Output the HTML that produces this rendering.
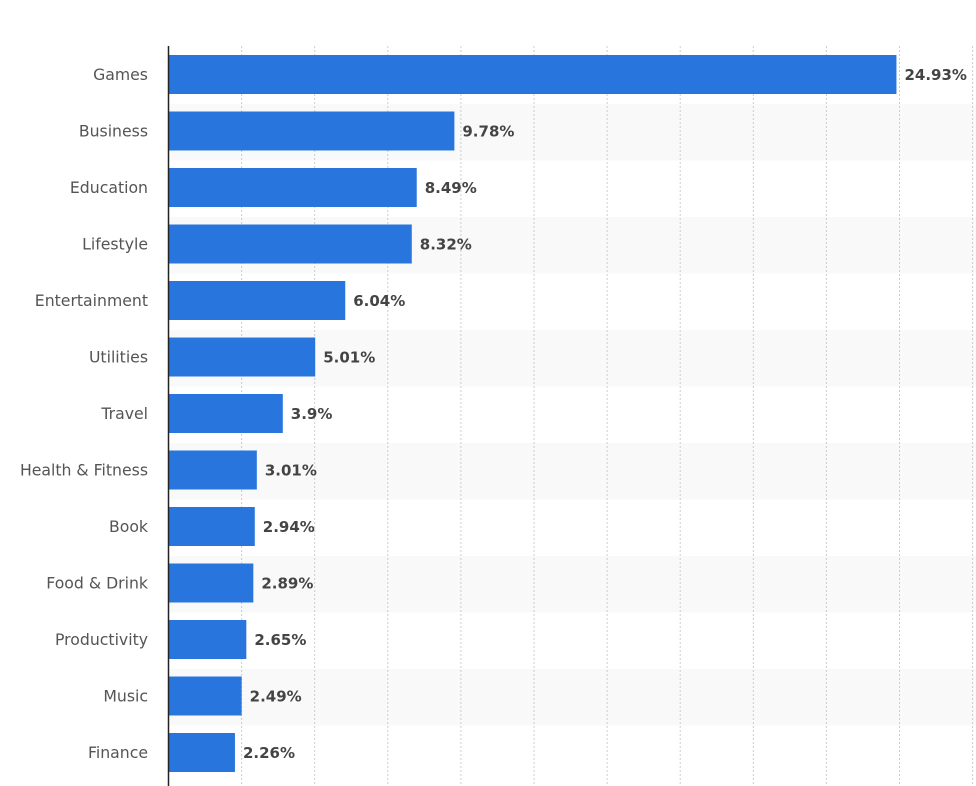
<!DOCTYPE html>
<html><head><meta charset="utf-8"><style>
html,body{margin:0;padding:0;background:#fff;}
svg{display:block;}
.l{font-family:"DejaVu Sans",sans-serif;font-size:15.7px;fill:#555;}
.v{font-family:"DejaVu Sans",sans-serif;font-size:15px;font-weight:bold;fill:#444;}
</style></head><body>
<svg width="976" height="786" xmlns="http://www.w3.org/2000/svg">
<g id="bands"></g>
<g id="grid"></g>
<g id="bars"></g>
<line x1="168.5" y1="46" x2="168.5" y2="786" stroke="#222" stroke-width="1.5"/>
</svg>
<script>
const d=[["Games",24.93],["Business",9.78],["Education",8.49],["Lifestyle",8.32],["Entertainment",6.04],["Utilities",5.01],["Travel",3.9],["Health & Fitness",3.01],["Book",2.94],["Food & Drink",2.89],["Productivity",2.65],["Music",2.49],["Finance",2.26]];
const ns="http://www.w3.org/2000/svg";
function el(p,t,a,txt){const e=document.createElementNS(ns,t);for(const k in a)e.setAttribute(k,a[k]);if(txt)e.textContent=txt;document.getElementById(p).appendChild(e);}
const P=56.5,S=29.18;
d.forEach((r,i)=>{
 if(i%2==1) el("bands","rect",{x:169,y:47.5+P*i,width:807,height:P,fill:"#f9f9f9"});
});
for(let k=1;k<=11;k++){const x=168.5+73.1*k;el("grid","line",{x1:x,y1:46,x2:x,y2:786,stroke:"#ccc","stroke-dasharray":"2,2"});}
d.forEach((r,i)=>{
 const y=55+P*i,w=r[1]*S;
 el("bars","rect",{x:169,y:y,width:w,height:39,fill:"#2876dd"});
 el("bars","text",{x:148,y:y+25,"text-anchor":"end",class:"l"},r[0]);
 el("bars","text",{x:169+w+8,y:y+25,class:"v"},r[1]+"%");
});
</script>
</body></html>
